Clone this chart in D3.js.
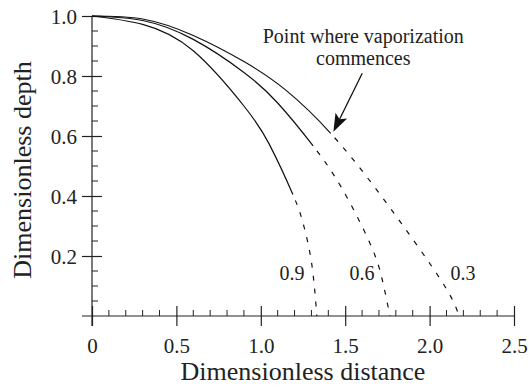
<!DOCTYPE html>
<html>
<head>
<meta charset="utf-8">
<script src="https://cdn.jsdelivr.net/npm/d3@7/dist/d3.min.js"></script>
<style>
html, body { margin: 0; padding: 0; background: #fff; }
svg text { font-family: "Liberation Serif", "Times New Roman", serif; fill: #222; }
</style>
</head>
<body>
<svg id="chart" width="529" height="389"></svg>
<script>
// ---- data ----
const xTicks = [0, 0.5, 1.0, 1.5, 2.0, 2.5];
const xTickLabels = ["0", "0.5", "1.0", "1.5", "2.0", "2.5"];
const yTicks = [0.2, 0.4, 0.6, 0.8, 1.0];
const yTickLabels = ["0.2", "0.4", "0.6", "0.8", "1.0"];
const curveNames = ["0.9", "0.6", "0.3"];

// solid part (before vaporization), then dashed part
const solid09 = [[0,1],[0.3,0.972],[0.6,0.884],[0.9,0.70],[1.05,0.573],[1.19,0.405]];
const dashed09 = [[1.19,0.405],[1.25,0.31],[1.3,0.18],[1.332,0]];

const solid06 = [[0,1],[0.3,0.985],[0.6,0.922],[0.9,0.812],[1.1,0.71],[1.31,0.567]];
const dashed06 = [[1.31,0.567],[1.48,0.426],[1.647,0.242],[1.72,0.12],[1.765,0]];

const solid03 = [[0,1],[0.3,0.99],[0.6,0.935],[0.9,0.848],[1.15,0.752],[1.414,0.609]];
const dashed03 = [[1.414,0.609],[1.667,0.435],[1.904,0.253],[2.1,0.09],[2.175,0]];

const labelPoints = [[1.185,0.12],[1.60,0.12],[2.198,0.12]];
const annotationLines = ["Point where vaporization", "commences"];
const arrowTail = [1.601, 0.809];
const arrowTip = [1.430, 0.614];

// ---- chart ----
const svg = d3.select("#chart");
const x = d3.scaleLinear().domain([0, 2.5]).range([92, 514]);
const y = d3.scaleLinear().domain([0, 1]).range([316, 16]);
const ink = "#222";
const serif = '"Liberation Serif", "Times New Roman", serif';

// minor ticks
const xMinor = d3.range(0, 25).map(i => i / 10).filter(v => Math.abs(v * 2 - Math.round(v * 2)) > 1e-6);
const yMinor = d3.range(0, 20).map(i => i / 20).filter(v => Math.abs(v * 5 - Math.round(v * 5)) > 1e-6);

svg.append("g").selectAll("line").data(xMinor).join("line")
  .attr("x1", d => x(d)).attr("x2", d => x(d))
  .attr("y1", y(0)).attr("y2", y(0) - 6)
  .attr("stroke", ink).attr("stroke-width", 1);
svg.append("g").selectAll("line").data(yMinor).join("line")
  .attr("y1", d => y(d)).attr("y2", d => y(d))
  .attr("x1", x(0)).attr("x2", x(0) + 6)
  .attr("stroke", ink).attr("stroke-width", 1);

// x axis
const gx = svg.append("g").attr("transform", `translate(0,${y(0)})`)
  .call(d3.axisBottom(x).tickValues(xTicks)
    .tickFormat((d, i) => xTickLabels[i]).tickSize(10).tickSizeOuter(0));
gx.attr("font-family", null).attr("font-size", null);
gx.select(".domain").remove();
gx.selectAll(".tick line").attr("y1", -10).attr("y2", 10).attr("stroke", ink).attr("stroke-width", 1.2);
gx.selectAll(".tick text").attr("y", 37).attr("dy", 0)
  .style("font-family", serif).style("font-size", "21px").attr("fill", ink);
gx.append("line").attr("x1", x(0) - 10).attr("x2", x(2.5)).attr("y1", 0).attr("y2", 0)
  .attr("stroke", ink).attr("stroke-width", 1.2);

// y axis
const gy = svg.append("g").attr("transform", `translate(${x(0)},0)`)
  .call(d3.axisLeft(y).tickValues(yTicks)
    .tickFormat((d, i) => yTickLabels[i]).tickSize(10).tickSizeOuter(0));
gy.attr("font-family", null).attr("font-size", null);
gy.select(".domain").remove();
gy.selectAll(".tick line").attr("x1", -10).attr("x2", 10).attr("stroke", ink).attr("stroke-width", 1.2);
gy.selectAll(".tick text").attr("x", -15).attr("dy", "0.34em")
  .style("font-family", serif).style("font-size", "21px").attr("fill", ink);
gy.append("line").attr("x1", 0).attr("x2", 0).attr("y1", y(1)).attr("y2", y(0) + 10)
  .attr("stroke", ink).attr("stroke-width", 1.2);

// curves: one smooth path each, solid up to vaporization point, dashed after
const line = d3.line().x(d => x(d[0])).y(d => y(d[1])).curve(d3.curveNatural);
const curves = [[solid09, dashed09], [solid06, dashed06], [solid03, dashed03]];
const gc = svg.append("g");
curves.forEach(([s, dsh]) => {
  const pts = s.concat(dsh.slice(1));
  const p = gc.append("path").attr("d", line(pts)).attr("fill", "none")
    .attr("stroke", "#111").attr("stroke-width", 1.2);
  const node = p.node();
  const total = node.getTotalLength();
  const bx = x(s[s.length - 1][0]);
  let lo = 0, hi = total;
  for (let k = 0; k < 40; k++) {
    const mid = (lo + hi) / 2;
    if (node.getPointAtLength(mid).x < bx) lo = mid; else hi = mid;
  }
  const arr = [lo, 6];
  let acc = lo + 6;
  while (acc < total) { arr.push(5, 8); acc += 13; }
  p.attr("stroke-dasharray", arr.join(","));
});

// curve labels
svg.append("g").selectAll("text").data(curveNames).join("text")
  .attr("x", (d, i) => x(labelPoints[i][0])).attr("y", (d, i) => y(labelPoints[i][1]))
  .attr("text-anchor", "middle").style("font-size", "20px").text(d => d);

// annotation
svg.append("text").attr("x", x(1.607)).attr("y", y(0.911))
  .attr("text-anchor", "middle").style("font-size", "20px").text(annotationLines[0]);
svg.append("text").attr("x", x(1.607)).attr("y", y(0.838))
  .attr("text-anchor", "middle").style("font-size", "20px").text(annotationLines[1]);

// arrow
const tx = x(arrowTail[0]), ty = y(arrowTail[1]);
const hx = x(arrowTip[0]), hy = y(arrowTip[1]);
const ang = Math.atan2(hy - ty, hx - tx);
const hl = 18, hw = 6.5;
const bx = hx - hl * Math.cos(ang), by = hy - hl * Math.sin(ang);
svg.append("line").attr("x1", tx).attr("y1", ty).attr("x2", bx + 4 * Math.cos(ang)).attr("y2", by + 4 * Math.sin(ang))
  .attr("stroke", "#111").attr("stroke-width", 1.3);
const nx = -Math.sin(ang), ny = Math.cos(ang);
const notch = 4;
svg.append("path")
  .attr("d", `M${hx},${hy} L${bx + nx * hw},${by + ny * hw} L${bx + notch * Math.cos(ang)},${by + notch * Math.sin(ang)} L${bx - nx * hw},${by - ny * hw} Z`)
  .attr("fill", "#111");

// axis titles
svg.append("text").attr("x", (x(0) + x(2.5)) / 2).attr("y", 380)
  .attr("text-anchor", "middle").style("font-size", "26px").text("Dimensionless distance");
svg.append("text").attr("transform", `translate(31,170) rotate(-90)`)
  .attr("text-anchor", "middle").style("font-size", "26px").text("Dimensionless depth");
</script>
</body>
</html>
